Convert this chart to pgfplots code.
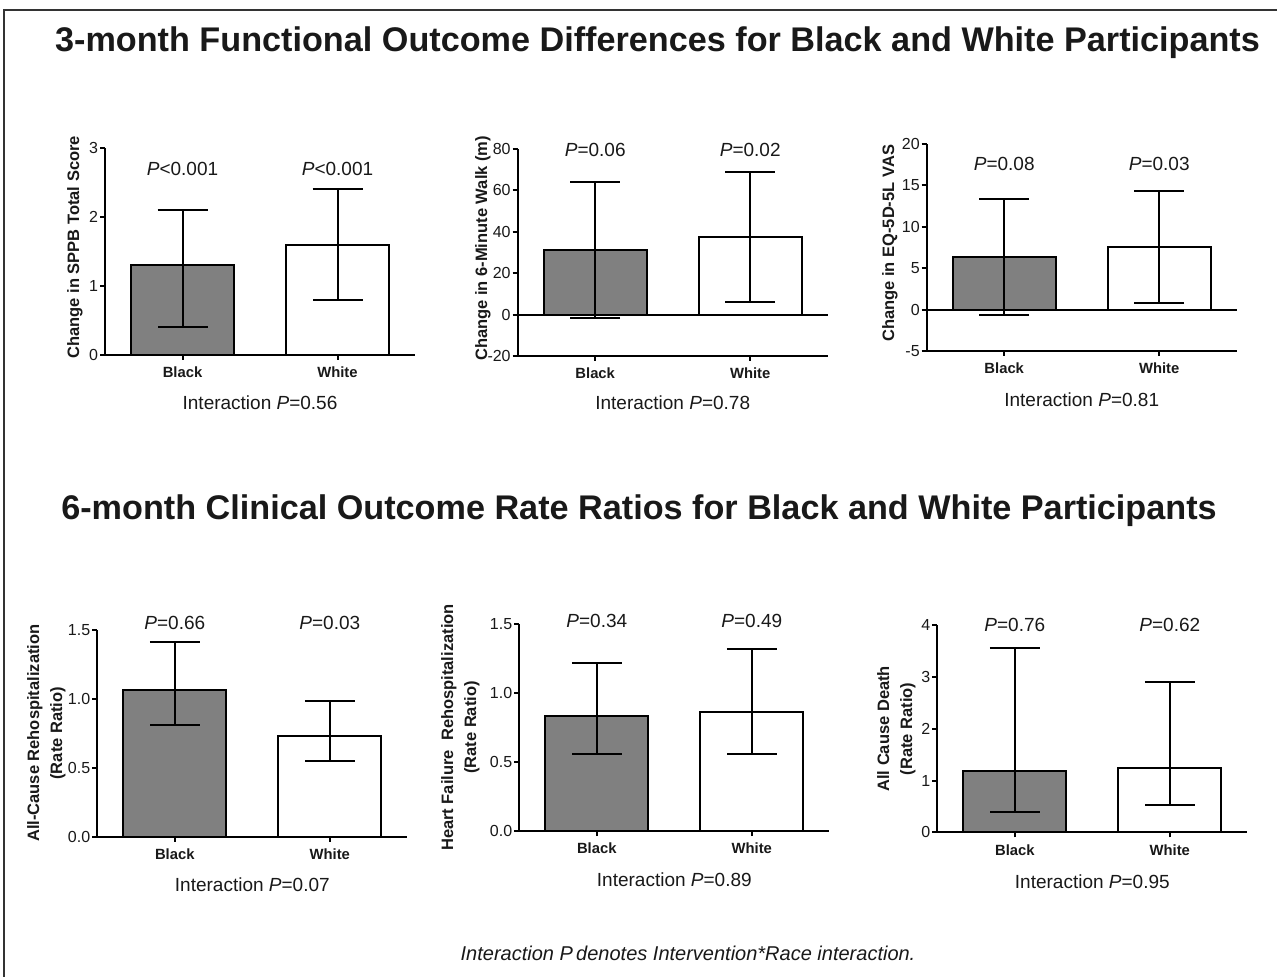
\documentclass[border=0pt]{standalone}
\usepackage{fontspec}
\setmainfont{Liberation Sans}
\usepackage{pgfplots}
\pgfplotsset{compat=1.18}
\definecolor{barg}{RGB}{128,128,128}
\definecolor{txt}{RGB}{25,25,25}
\pgfplotsset{
  panel/.style={
    anchor=south west, scale only axis, width=155pt, height=103.5pt,
    axis lines*=left, axis line style={line width=1pt, black},
    xmin=-0.5, xmax=1.5, xtick={0,1}, xticklabels={Black,White},
    tick align=outside, major tick length=2.5pt, tick style={line width=1pt, black},
    xticklabel style={font=\bfseries\fontsize{7.4}{8}\selectfont, text=txt},
    yticklabel style={font=\fontsize{8}{9}\selectfont, text=txt, xshift=2.5pt},
    /pgf/number format/assume math mode=true,
    clip=false,
  },
  blackbar/.style={ybar, bar width=0.665, bar shift=0pt, fill=barg, draw=black, line width=1pt,
    error bars/.cd, y dir=both, y explicit, error bar style={line width=1pt, black},
    error mark options={rotate=90, black, line width=1pt, mark size=12.5pt}},
  whitebar/.style={ybar, bar width=0.665, bar shift=0pt, fill=white, draw=black, line width=1pt,
    error bars/.cd, y dir=both, y explicit, error bar style={line width=1pt, black},
    error mark options={rotate=90, black, line width=1pt, mark size=12.5pt}},
}
\tikzset{
  pval/.style={font=\fontsize{9.5}{11}\selectfont, text=txt},
  ylab/.style={rotate=90, font=\bfseries\fontsize{8.25}{11.5}\selectfont, text=txt, align=center},
}
\begin{document}
\begin{tikzpicture}
\path[use as bounding box] (0,0) rectangle (638.5pt,-488.5pt);
\fill[white] (0,0) rectangle (638.5pt,-488.5pt);
\draw[line width=1pt, black!80] (2pt,-488.5pt) -- (2pt,-5pt) -- (638.5pt,-5pt);

\node[font=\bfseries\fontsize{17.1}{20}\selectfont, text=txt] at (328.75pt,-21.5pt) {3-month Functional Outcome Differences for Black and White Participants};
\node[font=\bfseries\fontsize{17.1}{20}\selectfont, text=txt] at (319.5pt,-255.5pt) {6-month Clinical Outcome Rate Ratios for Black and White Participants};
\node[font=\itshape\fontsize{10}{12}\selectfont, text=txt] at (344pt,-476.5pt) {Interaction P\,denotes Intervention*Race interaction.};

% Panel 1
\begin{axis}[panel, at={(52.5pt,-177.5pt)}, ymin=0, ymax=3, ytick={0,1,2,3}]
\addplot[blackbar] coordinates {(0,1.3) += (0,0.8) -= (0,0.9)};
\addplot[whitebar] coordinates {(1,1.6) += (0,0.8) -= (0,0.8)};
\node[pval] at (axis cs:0,2.70) {\textit{P}<0.001};
\node[pval] at (axis cs:1,2.70) {\textit{P}<0.001};
\node[pval, yshift=-24pt] at (rel axis cs:0.5,0) {Interaction \textit{P}=0.56};
\node[xshift=-15pt, ylab] at (rel axis cs:0,0.52) {Change in SPPB Total Score};
\end{axis}

% Panel 2
\begin{axis}[panel, at={(258.85pt,-178pt)}, ymin=-20, ymax=80, ytick={-20,0,20,40,60,80}]
\draw[line width=1pt, black] (axis cs:-0.5,0) -- (axis cs:1.5,0);
\addplot[blackbar] coordinates {(0,31) += (0,33) -= (0,32.6)};
\addplot[whitebar] coordinates {(1,37.5) += (0,31.5) -= (0,31.5)};
\node[pval] at (axis cs:0,79.4) {\textit{P}=0.06};
\node[pval] at (axis cs:1,79.4) {\textit{P}=0.02};
\node[pval, yshift=-23.5pt] at (rel axis cs:0.5,0) {Interaction \textit{P}=0.78};
\node[xshift=-17.35pt, ylab] at (rel axis cs:0,0.52) {Change in 6-Minute Walk (m)};
\end{axis}

% Panel 3
\begin{axis}[panel, at={(463.35pt,-175.5pt)}, ymin=-5, ymax=20, ytick={-5,0,5,10,15,20}]
\draw[line width=1pt, black] (axis cs:-0.5,0) -- (axis cs:1.5,0);
\addplot[blackbar] coordinates {(0,6.3) += (0,7.0) -= (0,7.0)};
\addplot[whitebar] coordinates {(1,7.5) += (0,6.8) -= (0,6.7)};
\node[pval] at (axis cs:0,17.6) {\textit{P}=0.08};
\node[pval] at (axis cs:1,17.6) {\textit{P}=0.03};
\node[pval, yshift=-24.5pt] at (rel axis cs:0.5,0) {Interaction \textit{P}=0.81};
\node[xshift=-18.35pt, ylab] at (rel axis cs:0,0.52) {Change in EQ-5D-5L VAS};
\end{axis}

% Panel 4
\begin{axis}[panel, at={(48.65pt,-418.35pt)}, ymin=0, ymax=1.5, ytick={0,0.5,1,1.5},
  yticklabel style={/pgf/number format/.cd, fixed, fixed zerofill, precision=1}]
\addplot[blackbar] coordinates {(0,1.06) += (0,0.35) -= (0,0.25)};
\addplot[whitebar] coordinates {(1,0.73) += (0,0.25) -= (0,0.18)};
\node[pval] at (axis cs:0,1.547) {\textit{P}=0.66};
\node[pval] at (axis cs:1,1.547) {\textit{P}=0.03};
\node[pval, yshift=-24pt] at (rel axis cs:0.5,0) {Interaction \textit{P}=0.07};
\node[xshift=-25.5pt, ylab] at (rel axis cs:0,0.5) {All-Cause Rehospitalization\\(Rate Ratio)};
\end{axis}

% Panel 5
\begin{axis}[panel, at={(259.65pt,-415.5pt)}, ymin=0, ymax=1.5, ytick={0,0.5,1,1.5},
  yticklabel style={/pgf/number format/.cd, fixed, fixed zerofill, precision=1}]
\addplot[blackbar] coordinates {(0,0.83) += (0,0.39) -= (0,0.27)};
\addplot[whitebar] coordinates {(1,0.86) += (0,0.46) -= (0,0.30)};
\node[pval] at (axis cs:0,1.524) {\textit{P}=0.34};
\node[pval] at (axis cs:1,1.524) {\textit{P}=0.49};
\node[pval, yshift=-24.5pt] at (rel axis cs:0.5,0) {Interaction \textit{P}=0.89};
\node[xshift=-29.5pt, ylab] at (rel axis cs:0,0.5) {Heart Failure \ Rehospitalization\\(Rate Ratio)};
\end{axis}

% Panel 6
\begin{axis}[panel, at={(468.65pt,-416.15pt)}, ymin=0, ymax=4, ytick={0,1,2,3,4}]
\addplot[blackbar] coordinates {(0,1.19) += (0,2.38) -= (0,0.79)};
\addplot[whitebar] coordinates {(1,1.24) += (0,1.67) -= (0,0.71)};
\node[pval] at (axis cs:0,4.0) {\textit{P}=0.76};
\node[pval] at (axis cs:1,4.0) {\textit{P}=0.62};
\node[pval, yshift=-24.5pt] at (rel axis cs:0.5,0) {Interaction \textit{P}=0.95};
\node[xshift=-20.5pt, ylab] at (rel axis cs:0,0.5) {All Cause Death\\(Rate Ratio)};
\end{axis}
\end{tikzpicture}
\end{document}
